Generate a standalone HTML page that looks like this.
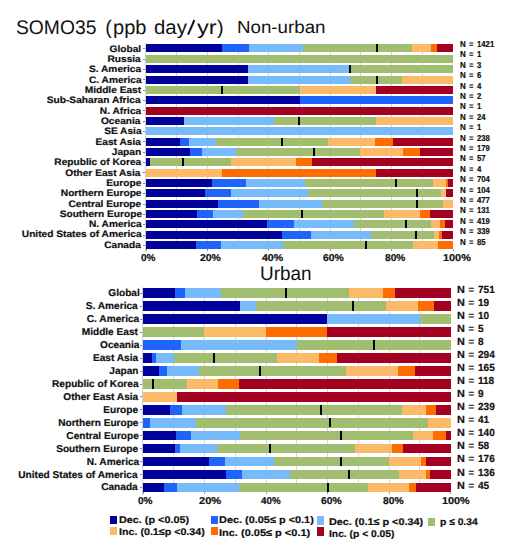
<!DOCTYPE html>
<html><head><meta charset="utf-8"><style>
html,body{margin:0;padding:0;background:#fff;}
body{width:520px;height:559px;position:relative;overflow:hidden;font-family:"Liberation Sans",sans-serif;color:#111;text-rendering:geometricPrecision;}
.x{position:absolute;white-space:nowrap;}
.x.b{font-weight:bold;-webkit-text-stroke:0.2px #111;}
.x.e{-webkit-text-stroke:0;}
.s{position:absolute;}
.m{position:absolute;width:2px;background:#000;}
.t{position:absolute;width:3px;height:1px;background:#888;}
.g{position:absolute;width:1px;background:#d6d6dc;}
.ax{position:absolute;width:1px;background:#d0d0d0;}
.sq{position:absolute;width:6.8px;height:8.3px;}
.xt{position:absolute;width:1px;height:2px;background:#999;}
</style></head><body>

<div id="title1" class="x" style="top:17px;font-size:19.8px;line-height:22px;left:16.11px;transform:scaleX(0.975);transform-origin:left center">SOMO35</div>
<div id="title2a" class="x" style="top:17px;font-size:19.8px;line-height:22px;left:105.141px">(</div>
<div id="title2b" class="x" style="top:17px;font-size:19.8px;line-height:22px;left:113.052px;transform:scaleX(1.013);transform-origin:left center">ppb</div>
<div id="title3a" class="x" style="top:17px;font-size:19.8px;line-height:22px;left:153.732px;transform:scaleX(1.031);transform-origin:left center">day</div>
<svg style="position:absolute;left:180px;top:15px" width="24" height="25" viewBox="180 15 24 25"><line x1="188.1" y1="34.6" x2="194.4" y2="20.0" stroke="#111" stroke-width="2"/></svg>
<div id="title3c" class="x" style="top:17px;font-size:19.8px;line-height:22px;left:196.5px;transform:scaleX(1.193);transform-origin:left center">yr</div>
<div id="title3d" class="x" style="top:17px;font-size:19.8px;line-height:22px;left:217.046px">)</div>
<div id="nonurban" class="x" style="top:17px;font-size:17.6px;line-height:20px;left:236.629px;transform:scaleX(1.065);transform-origin:left center">Non-urban</div>
<div id="urban" class="x" style="top:263px;font-size:19.5px;line-height:22px;left:259.703px;transform:scaleX(0.972);transform-origin:left center">Urban</div>
<div class="g" style="left:176.2px;top:44.45px;height:204.65px"></div>
<div class="g" style="left:206.9px;top:44.45px;height:204.65px"></div>
<div class="g" style="left:237.6px;top:44.45px;height:204.65px"></div>
<div class="g" style="left:268.3px;top:44.45px;height:204.65px"></div>
<div class="g" style="left:299px;top:44.45px;height:204.65px"></div>
<div class="g" style="left:329.7px;top:44.45px;height:204.65px"></div>
<div class="g" style="left:360.4px;top:44.45px;height:204.65px"></div>
<div class="g" style="left:391.1px;top:44.45px;height:204.65px"></div>
<div class="g" style="left:421.8px;top:44.45px;height:204.65px"></div>
<div class="s" style="left:146px;top:44px;width:76px;height:8px;background:#00009a"></div>
<div class="s" style="left:222px;top:44px;width:27px;height:8px;background:#1e64fa"></div>
<div class="s" style="left:249px;top:44px;width:54px;height:8px;background:#78bbfa"></div>
<div class="s" style="left:303px;top:44px;width:109px;height:8px;background:#a1bd6f"></div>
<div class="s" style="left:412px;top:44px;width:19px;height:8px;background:#fbba68"></div>
<div class="s" style="left:431px;top:44px;width:6px;height:8px;background:#ff6c00"></div>
<div class="s" style="left:437px;top:44px;width:16px;height:8px;background:#a30022"></div>
<div class="m" style="left:375.6px;top:44.45px;height:8px"></div>
<div class="t" style="left:143px;top:48.25px"></div>
<div id="t_l0" class="x b" style="top:43px;font-size:9.4px;line-height:11px;right:378.558px;transform:scaleX(1.083);transform-origin:right center">Global</div>
<div id="t_nN0" class="x b" style="top:39px;font-size:8.6px;line-height:10px;left:460.153px;transform:scaleX(0.932);transform-origin:left center">N</div>
<div id="t_nE0" class="x b e" style="top:39px;font-size:8.6px;line-height:10px;left:469.2px;transform:scaleX(0.9);transform-origin:left center">=</div>
<div id="t_nD0" class="x b" style="top:39px;font-size:8.6px;line-height:10px;left:476.5px;transform:scaleX(0.9);transform-origin:left center">1421</div>
<div class="s" style="left:146px;top:55px;width:307px;height:8px;background:#a1bd6f"></div>
<div class="t" style="left:143px;top:58.6px"></div>
<div id="t_l1" class="x b" style="top:53px;font-size:9.4px;line-height:11px;right:379.012px;transform:scaleX(1.083);transform-origin:right center">Russia</div>
<div id="t_nN1" class="x b" style="top:49px;font-size:8.6px;line-height:10px;left:460.153px;transform:scaleX(0.932);transform-origin:left center">N</div>
<div id="t_nE1" class="x b e" style="top:49px;font-size:8.6px;line-height:10px;left:469.2px;transform:scaleX(0.9);transform-origin:left center">=</div>
<div id="t_nD1" class="x b" style="top:49px;font-size:8.6px;line-height:10px;left:476.5px;transform:scaleX(0.9);transform-origin:left center">1</div>
<div class="s" style="left:146px;top:65px;width:102px;height:8px;background:#00009a"></div>
<div class="s" style="left:248px;top:65px;width:102px;height:8px;background:#78bbfa"></div>
<div class="s" style="left:350px;top:65px;width:103px;height:8px;background:#a1bd6f"></div>
<div class="m" style="left:348.8px;top:65.15px;height:8px"></div>
<div class="t" style="left:143px;top:68.95px"></div>
<div id="t_l2" class="x b" style="top:63px;font-size:9.4px;line-height:11px;right:378.537px;transform:scaleX(1.083);transform-origin:right center">S. America</div>
<div id="t_nN2" class="x b" style="top:60px;font-size:8.6px;line-height:10px;left:460.153px;transform:scaleX(0.932);transform-origin:left center">N</div>
<div id="t_nE2" class="x b e" style="top:60px;font-size:8.6px;line-height:10px;left:469.2px;transform:scaleX(0.9);transform-origin:left center">=</div>
<div id="t_nD2" class="x b" style="top:60px;font-size:8.6px;line-height:10px;left:476.5px;transform:scaleX(0.9);transform-origin:left center">3</div>
<div class="s" style="left:146px;top:76px;width:102px;height:8px;background:#00009a"></div>
<div class="s" style="left:248px;top:76px;width:102px;height:8px;background:#78bbfa"></div>
<div class="s" style="left:350px;top:76px;width:52px;height:8px;background:#a1bd6f"></div>
<div class="s" style="left:402px;top:76px;width:51px;height:8px;background:#fbba68"></div>
<div class="m" style="left:375.6px;top:75.5px;height:8px"></div>
<div class="t" style="left:143px;top:79.3px"></div>
<div id="t_l3" class="x b" style="top:74px;font-size:9.4px;line-height:11px;right:378.866px;transform:scaleX(1.083);transform-origin:right center">C. America</div>
<div id="t_nN3" class="x b" style="top:70px;font-size:8.6px;line-height:10px;left:460.153px;transform:scaleX(0.932);transform-origin:left center">N</div>
<div id="t_nE3" class="x b e" style="top:70px;font-size:8.6px;line-height:10px;left:469.2px;transform:scaleX(0.9);transform-origin:left center">=</div>
<div id="t_nD3" class="x b" style="top:70px;font-size:8.6px;line-height:10px;left:476.5px;transform:scaleX(0.9);transform-origin:left center">6</div>
<div class="s" style="left:146px;top:86px;width:154px;height:8px;background:#a1bd6f"></div>
<div class="s" style="left:300px;top:86px;width:76px;height:8px;background:#fbba68"></div>
<div class="s" style="left:376px;top:86px;width:77px;height:8px;background:#a30022"></div>
<div class="m" style="left:221px;top:85.85px;height:8px"></div>
<div class="t" style="left:143px;top:89.65px"></div>
<div id="t_l4" class="x b" style="top:84px;font-size:9.4px;line-height:11px;right:378.692px;transform:scaleX(1.083);transform-origin:right center">Middle East</div>
<div id="t_nN4" class="x b" style="top:81px;font-size:8.6px;line-height:10px;left:460.153px;transform:scaleX(0.932);transform-origin:left center">N</div>
<div id="t_nE4" class="x b e" style="top:81px;font-size:8.6px;line-height:10px;left:469.2px;transform:scaleX(0.9);transform-origin:left center">=</div>
<div id="t_nD4" class="x b" style="top:81px;font-size:8.6px;line-height:10px;left:476.5px;transform:scaleX(0.9);transform-origin:left center">4</div>
<div class="s" style="left:146px;top:96px;width:154px;height:8px;background:#00009a"></div>
<div class="s" style="left:300px;top:96px;width:153px;height:8px;background:#1e64fa"></div>
<div class="t" style="left:143px;top:100px"></div>
<div id="t_l5" class="x b" style="top:94px;font-size:9.4px;line-height:11px;right:378.866px;transform:scaleX(1.083);transform-origin:right center">Sub-Saharan Africa</div>
<div id="t_nN5" class="x b" style="top:91px;font-size:8.6px;line-height:10px;left:460.153px;transform:scaleX(0.932);transform-origin:left center">N</div>
<div id="t_nE5" class="x b e" style="top:91px;font-size:8.6px;line-height:10px;left:469.2px;transform:scaleX(0.9);transform-origin:left center">=</div>
<div id="t_nD5" class="x b" style="top:91px;font-size:8.6px;line-height:10px;left:476.5px;transform:scaleX(0.9);transform-origin:left center">2</div>
<div class="s" style="left:146px;top:107px;width:307px;height:8px;background:#a30022"></div>
<div class="t" style="left:143px;top:110.35px"></div>
<div id="t_l6" class="x b" style="top:105px;font-size:9.4px;line-height:11px;right:378.568px;transform:scaleX(1.083);transform-origin:right center">N. Africa</div>
<div id="t_nN6" class="x b" style="top:101px;font-size:8.6px;line-height:10px;left:460.153px;transform:scaleX(0.932);transform-origin:left center">N</div>
<div id="t_nE6" class="x b e" style="top:101px;font-size:8.6px;line-height:10px;left:469.2px;transform:scaleX(0.9);transform-origin:left center">=</div>
<div id="t_nD6" class="x b" style="top:101px;font-size:8.6px;line-height:10px;left:476.5px;transform:scaleX(0.9);transform-origin:left center">1</div>
<div class="s" style="left:146px;top:117px;width:38px;height:8px;background:#00009a"></div>
<div class="s" style="left:184px;top:117px;width:90px;height:8px;background:#78bbfa"></div>
<div class="s" style="left:274px;top:117px;width:102px;height:8px;background:#a1bd6f"></div>
<div class="s" style="left:376px;top:117px;width:77px;height:8px;background:#fbba68"></div>
<div class="m" style="left:298px;top:116.9px;height:8px"></div>
<div class="t" style="left:143px;top:120.7px"></div>
<div id="t_l7" class="x b" style="top:115px;font-size:9.4px;line-height:11px;right:379.162px;transform:scaleX(1.083);transform-origin:right center">Oceania</div>
<div id="t_nN7" class="x b" style="top:112px;font-size:8.6px;line-height:10px;left:460.153px;transform:scaleX(0.932);transform-origin:left center">N</div>
<div id="t_nE7" class="x b e" style="top:112px;font-size:8.6px;line-height:10px;left:469.2px;transform:scaleX(0.9);transform-origin:left center">=</div>
<div id="t_nD7" class="x b" style="top:112px;font-size:8.6px;line-height:10px;left:476.5px;transform:scaleX(0.9);transform-origin:left center">24</div>
<div class="s" style="left:146px;top:127px;width:307px;height:8px;background:#78bbfa"></div>
<div class="t" style="left:143px;top:131.05px"></div>
<div id="t_l8" class="x b" style="top:125px;font-size:9.4px;line-height:11px;right:378.866px;transform:scaleX(1.083);transform-origin:right center">SE Asia</div>
<div id="t_nN8" class="x b" style="top:122px;font-size:8.6px;line-height:10px;left:460.153px;transform:scaleX(0.932);transform-origin:left center">N</div>
<div id="t_nE8" class="x b e" style="top:122px;font-size:8.6px;line-height:10px;left:469.2px;transform:scaleX(0.9);transform-origin:left center">=</div>
<div id="t_nD8" class="x b" style="top:122px;font-size:8.6px;line-height:10px;left:476.5px;transform:scaleX(0.9);transform-origin:left center">1</div>
<div class="s" style="left:146px;top:138px;width:34px;height:8px;background:#00009a"></div>
<div class="s" style="left:180px;top:138px;width:9px;height:8px;background:#1e64fa"></div>
<div class="s" style="left:189px;top:138px;width:27px;height:8px;background:#78bbfa"></div>
<div class="s" style="left:216px;top:138px;width:112px;height:8px;background:#a1bd6f"></div>
<div class="s" style="left:328px;top:138px;width:47px;height:8px;background:#fbba68"></div>
<div class="s" style="left:375px;top:138px;width:18px;height:8px;background:#ff6c00"></div>
<div class="s" style="left:393px;top:138px;width:60px;height:8px;background:#a30022"></div>
<div class="m" style="left:281.1px;top:137.6px;height:8px"></div>
<div class="t" style="left:143px;top:141.4px"></div>
<div id="t_l9" class="x b" style="top:136px;font-size:9.4px;line-height:11px;right:378.708px;transform:scaleX(1.083);transform-origin:right center">East Asia</div>
<div id="t_nN9" class="x b" style="top:133px;font-size:8.6px;line-height:10px;left:460.153px;transform:scaleX(0.932);transform-origin:left center">N</div>
<div id="t_nE9" class="x b e" style="top:133px;font-size:8.6px;line-height:10px;left:469.2px;transform:scaleX(0.9);transform-origin:left center">=</div>
<div id="t_nD9" class="x b" style="top:133px;font-size:8.6px;line-height:10px;left:476.5px;transform:scaleX(0.9);transform-origin:left center">238</div>
<div class="s" style="left:146px;top:148px;width:44px;height:8px;background:#00009a"></div>
<div class="s" style="left:190px;top:148px;width:12px;height:8px;background:#1e64fa"></div>
<div class="s" style="left:202px;top:148px;width:34px;height:8px;background:#78bbfa"></div>
<div class="s" style="left:236px;top:148px;width:124px;height:8px;background:#a1bd6f"></div>
<div class="s" style="left:360px;top:148px;width:43px;height:8px;background:#fbba68"></div>
<div class="s" style="left:403px;top:148px;width:17px;height:8px;background:#ff6c00"></div>
<div class="s" style="left:420px;top:148px;width:33px;height:8px;background:#a30022"></div>
<div class="m" style="left:313px;top:147.95px;height:8px"></div>
<div class="t" style="left:143px;top:151.75px"></div>
<div id="t_l10" class="x b" style="top:146px;font-size:9.4px;line-height:11px;right:378.745px;transform:scaleX(1.083);transform-origin:right center">Japan</div>
<div id="t_nN10" class="x b" style="top:143px;font-size:8.6px;line-height:10px;left:460.153px;transform:scaleX(0.932);transform-origin:left center">N</div>
<div id="t_nE10" class="x b e" style="top:143px;font-size:8.6px;line-height:10px;left:469.2px;transform:scaleX(0.9);transform-origin:left center">=</div>
<div id="t_nD10" class="x b" style="top:143px;font-size:8.6px;line-height:10px;left:476.5px;transform:scaleX(0.9);transform-origin:left center">179</div>
<div class="s" style="left:146px;top:158px;width:4px;height:8px;background:#00009a"></div>
<div class="s" style="left:150px;top:158px;width:81px;height:8px;background:#a1bd6f"></div>
<div class="s" style="left:231px;top:158px;width:65px;height:8px;background:#fbba68"></div>
<div class="s" style="left:296px;top:158px;width:16px;height:8px;background:#ff6c00"></div>
<div class="s" style="left:312px;top:158px;width:141px;height:8px;background:#a30022"></div>
<div class="m" style="left:182.2px;top:158.3px;height:8px"></div>
<div class="t" style="left:143px;top:162.1px"></div>
<div id="t_l11" class="x b" style="top:156px;font-size:9.4px;line-height:11px;right:378.568px;transform:scaleX(1.083);transform-origin:right center">Republic of Korea</div>
<div id="t_nN11" class="x b" style="top:153px;font-size:8.6px;line-height:10px;left:460.153px;transform:scaleX(0.932);transform-origin:left center">N</div>
<div id="t_nE11" class="x b e" style="top:153px;font-size:8.6px;line-height:10px;left:469.2px;transform:scaleX(0.9);transform-origin:left center">=</div>
<div id="t_nD11" class="x b" style="top:153px;font-size:8.6px;line-height:10px;left:476.5px;transform:scaleX(0.9);transform-origin:left center">57</div>
<div class="s" style="left:146px;top:169px;width:76px;height:8px;background:#fbba68"></div>
<div class="s" style="left:222px;top:169px;width:154px;height:8px;background:#ff6c00"></div>
<div class="s" style="left:376px;top:169px;width:77px;height:8px;background:#a30022"></div>
<div class="t" style="left:143px;top:172.45px"></div>
<div id="t_l12" class="x b" style="top:167px;font-size:9.4px;line-height:11px;right:379.295px;transform:scaleX(1.083);transform-origin:right center">Other East Asia</div>
<div id="t_nN12" class="x b" style="top:164px;font-size:8.6px;line-height:10px;left:460.153px;transform:scaleX(0.932);transform-origin:left center">N</div>
<div id="t_nE12" class="x b e" style="top:164px;font-size:8.6px;line-height:10px;left:469.2px;transform:scaleX(0.9);transform-origin:left center">=</div>
<div id="t_nD12" class="x b" style="top:164px;font-size:8.6px;line-height:10px;left:476.5px;transform:scaleX(0.9);transform-origin:left center">4</div>
<div class="s" style="left:146px;top:179px;width:66px;height:8px;background:#00009a"></div>
<div class="s" style="left:212px;top:179px;width:34px;height:8px;background:#1e64fa"></div>
<div class="s" style="left:246px;top:179px;width:59px;height:8px;background:#78bbfa"></div>
<div class="s" style="left:305px;top:179px;width:128px;height:8px;background:#a1bd6f"></div>
<div class="s" style="left:433px;top:179px;width:13px;height:8px;background:#fbba68"></div>
<div class="s" style="left:446px;top:179px;width:2px;height:8px;background:#ff6c00"></div>
<div class="s" style="left:448px;top:179px;width:5px;height:8px;background:#a30022"></div>
<div class="m" style="left:395px;top:179px;height:8px"></div>
<div class="t" style="left:143px;top:182.8px"></div>
<div id="t_l13" class="x b" style="top:177px;font-size:9.4px;line-height:11px;right:378.493px;transform:scaleX(1.083);transform-origin:right center">Europe</div>
<div id="t_nN13" class="x b" style="top:174px;font-size:8.6px;line-height:10px;left:460.153px;transform:scaleX(0.932);transform-origin:left center">N</div>
<div id="t_nE13" class="x b e" style="top:174px;font-size:8.6px;line-height:10px;left:469.2px;transform:scaleX(0.9);transform-origin:left center">=</div>
<div id="t_nD13" class="x b" style="top:174px;font-size:8.6px;line-height:10px;left:476.5px;transform:scaleX(0.9);transform-origin:left center">704</div>
<div class="s" style="left:146px;top:189px;width:59px;height:8px;background:#00009a"></div>
<div class="s" style="left:205px;top:189px;width:26px;height:8px;background:#1e64fa"></div>
<div class="s" style="left:231px;top:189px;width:77px;height:8px;background:#78bbfa"></div>
<div class="s" style="left:308px;top:189px;width:133px;height:8px;background:#a1bd6f"></div>
<div class="s" style="left:441px;top:189px;width:5px;height:8px;background:#fbba68"></div>
<div class="s" style="left:446px;top:189px;width:7px;height:8px;background:#a30022"></div>
<div class="m" style="left:416.1px;top:189.35px;height:8px"></div>
<div class="t" style="left:143px;top:193.15px"></div>
<div id="t_l14" class="x b" style="top:187px;font-size:9.4px;line-height:11px;right:378.113px;transform:scaleX(1.083);transform-origin:right center">Northern Europe</div>
<div id="t_nN14" class="x b" style="top:185px;font-size:8.6px;line-height:10px;left:460.153px;transform:scaleX(0.932);transform-origin:left center">N</div>
<div id="t_nE14" class="x b e" style="top:185px;font-size:8.6px;line-height:10px;left:469.2px;transform:scaleX(0.9);transform-origin:left center">=</div>
<div id="t_nD14" class="x b" style="top:185px;font-size:8.6px;line-height:10px;left:476.5px;transform:scaleX(0.9);transform-origin:left center">104</div>
<div class="s" style="left:146px;top:200px;width:72px;height:8px;background:#00009a"></div>
<div class="s" style="left:218px;top:200px;width:41px;height:8px;background:#1e64fa"></div>
<div class="s" style="left:259px;top:200px;width:63px;height:8px;background:#78bbfa"></div>
<div class="s" style="left:322px;top:200px;width:121px;height:8px;background:#a1bd6f"></div>
<div class="s" style="left:443px;top:200px;width:10px;height:8px;background:#fbba68"></div>
<div class="m" style="left:416.1px;top:199.7px;height:8px"></div>
<div class="t" style="left:143px;top:203.5px"></div>
<div id="t_l15" class="x b" style="top:198px;font-size:9.4px;line-height:11px;right:378.524px;transform:scaleX(1.083);transform-origin:right center">Central Europe</div>
<div id="t_nN15" class="x b" style="top:195px;font-size:8.6px;line-height:10px;left:460.153px;transform:scaleX(0.932);transform-origin:left center">N</div>
<div id="t_nE15" class="x b e" style="top:195px;font-size:8.6px;line-height:10px;left:469.2px;transform:scaleX(0.9);transform-origin:left center">=</div>
<div id="t_nD15" class="x b" style="top:195px;font-size:8.6px;line-height:10px;left:476.5px;transform:scaleX(0.9);transform-origin:left center">477</div>
<div class="s" style="left:146px;top:210px;width:51px;height:8px;background:#00009a"></div>
<div class="s" style="left:197px;top:210px;width:16px;height:8px;background:#1e64fa"></div>
<div class="s" style="left:213px;top:210px;width:30px;height:8px;background:#78bbfa"></div>
<div class="s" style="left:243px;top:210px;width:141px;height:8px;background:#a1bd6f"></div>
<div class="s" style="left:384px;top:210px;width:36px;height:8px;background:#fbba68"></div>
<div class="s" style="left:420px;top:210px;width:10px;height:8px;background:#ff6c00"></div>
<div class="s" style="left:430px;top:210px;width:23px;height:8px;background:#a30022"></div>
<div class="m" style="left:301.4px;top:210.05px;height:8px"></div>
<div class="t" style="left:143px;top:213.85px"></div>
<div id="t_l16" class="x b" style="top:208px;font-size:9.4px;line-height:11px;right:378.343px;transform:scaleX(1.083);transform-origin:right center">Southern Europe</div>
<div id="t_nN16" class="x b" style="top:205px;font-size:8.6px;line-height:10px;left:460.153px;transform:scaleX(0.932);transform-origin:left center">N</div>
<div id="t_nE16" class="x b e" style="top:205px;font-size:8.6px;line-height:10px;left:469.2px;transform:scaleX(0.9);transform-origin:left center">=</div>
<div id="t_nD16" class="x b" style="top:205px;font-size:8.6px;line-height:10px;left:476.5px;transform:scaleX(0.9);transform-origin:left center">131</div>
<div class="s" style="left:146px;top:220px;width:121px;height:8px;background:#00009a"></div>
<div class="s" style="left:267px;top:220px;width:27px;height:8px;background:#1e64fa"></div>
<div class="s" style="left:294px;top:220px;width:60px;height:8px;background:#78bbfa"></div>
<div class="s" style="left:354px;top:220px;width:77px;height:8px;background:#a1bd6f"></div>
<div class="s" style="left:431px;top:220px;width:9px;height:8px;background:#fbba68"></div>
<div class="s" style="left:440px;top:220px;width:5px;height:8px;background:#ff6c00"></div>
<div class="s" style="left:445px;top:220px;width:8px;height:8px;background:#a30022"></div>
<div class="m" style="left:405.4px;top:220.4px;height:8px"></div>
<div class="t" style="left:143px;top:224.2px"></div>
<div id="t_l17" class="x b" style="top:218px;font-size:9.4px;line-height:11px;right:378.866px;transform:scaleX(1.083);transform-origin:right center">N. America</div>
<div id="t_nN17" class="x b" style="top:216px;font-size:8.6px;line-height:10px;left:460.153px;transform:scaleX(0.932);transform-origin:left center">N</div>
<div id="t_nE17" class="x b e" style="top:216px;font-size:8.6px;line-height:10px;left:469.2px;transform:scaleX(0.9);transform-origin:left center">=</div>
<div id="t_nD17" class="x b" style="top:216px;font-size:8.6px;line-height:10px;left:476.5px;transform:scaleX(0.9);transform-origin:left center">419</div>
<div class="s" style="left:146px;top:231px;width:136px;height:8px;background:#00009a"></div>
<div class="s" style="left:282px;top:231px;width:29px;height:8px;background:#1e64fa"></div>
<div class="s" style="left:311px;top:231px;width:60px;height:8px;background:#78bbfa"></div>
<div class="s" style="left:371px;top:231px;width:63px;height:8px;background:#a1bd6f"></div>
<div class="s" style="left:434px;top:231px;width:5px;height:8px;background:#fbba68"></div>
<div class="s" style="left:439px;top:231px;width:3px;height:8px;background:#ff6c00"></div>
<div class="s" style="left:442px;top:231px;width:11px;height:8px;background:#a30022"></div>
<div class="m" style="left:414.6px;top:230.75px;height:8px"></div>
<div class="t" style="left:143px;top:234.55px"></div>
<div id="t_l18" class="x b" style="top:228px;font-size:9.4px;line-height:11px;right:378.866px;transform:scaleX(1.083);transform-origin:right center">United States of America</div>
<div id="t_nN18" class="x b" style="top:226px;font-size:8.6px;line-height:10px;left:460.153px;transform:scaleX(0.932);transform-origin:left center">N</div>
<div id="t_nE18" class="x b e" style="top:226px;font-size:8.6px;line-height:10px;left:469.2px;transform:scaleX(0.9);transform-origin:left center">=</div>
<div id="t_nD18" class="x b" style="top:226px;font-size:8.6px;line-height:10px;left:476.5px;transform:scaleX(0.9);transform-origin:left center">339</div>
<div class="s" style="left:146px;top:241px;width:50px;height:8px;background:#00009a"></div>
<div class="s" style="left:196px;top:241px;width:25px;height:8px;background:#1e64fa"></div>
<div class="s" style="left:221px;top:241px;width:62px;height:8px;background:#78bbfa"></div>
<div class="s" style="left:283px;top:241px;width:130px;height:8px;background:#a1bd6f"></div>
<div class="s" style="left:413px;top:241px;width:25px;height:8px;background:#fbba68"></div>
<div class="s" style="left:438px;top:241px;width:15px;height:8px;background:#ff6c00"></div>
<div class="m" style="left:365.2px;top:241.1px;height:8px"></div>
<div class="t" style="left:143px;top:244.9px"></div>
<div id="t_l19" class="x b" style="top:239px;font-size:9.4px;line-height:11px;right:378.708px;transform:scaleX(1.083);transform-origin:right center">Canada</div>
<div id="t_nN19" class="x b" style="top:237px;font-size:8.6px;line-height:10px;left:460.153px;transform:scaleX(0.932);transform-origin:left center">N</div>
<div id="t_nE19" class="x b e" style="top:237px;font-size:8.6px;line-height:10px;left:469.2px;transform:scaleX(0.9);transform-origin:left center">=</div>
<div id="t_nD19" class="x b" style="top:237px;font-size:8.6px;line-height:10px;left:476.5px;transform:scaleX(0.9);transform-origin:left center">85</div>
<div class="xt" style="left:145.5px;top:249.1px"></div>
<div class="xt" style="left:206.9px;top:249.1px"></div>
<div class="xt" style="left:268.3px;top:249.1px"></div>
<div class="xt" style="left:329.7px;top:249.1px"></div>
<div class="xt" style="left:391.1px;top:249.1px"></div>
<div class="xt" style="left:452.5px;top:249.1px"></div>
<div class="ax" style="left:145px;top:43.45px;height:208.15px"></div>
<div class="g" style="left:173.26px;top:288px;height:204.4px"></div>
<div class="g" style="left:204.02px;top:288px;height:204.4px"></div>
<div class="g" style="left:234.78px;top:288px;height:204.4px"></div>
<div class="g" style="left:265.54px;top:288px;height:204.4px"></div>
<div class="g" style="left:296.3px;top:288px;height:204.4px"></div>
<div class="g" style="left:327.06px;top:288px;height:204.4px"></div>
<div class="g" style="left:357.82px;top:288px;height:204.4px"></div>
<div class="g" style="left:388.58px;top:288px;height:204.4px"></div>
<div class="g" style="left:419.34px;top:288px;height:204.4px"></div>
<div class="s" style="left:143px;top:288px;width:32px;height:10px;background:#00009a"></div>
<div class="s" style="left:175px;top:288px;width:10px;height:10px;background:#1e64fa"></div>
<div class="s" style="left:185px;top:288px;width:36px;height:10px;background:#78bbfa"></div>
<div class="s" style="left:221px;top:288px;width:128px;height:10px;background:#a1bd6f"></div>
<div class="s" style="left:349px;top:288px;width:34px;height:10px;background:#fbba68"></div>
<div class="s" style="left:383px;top:288px;width:12px;height:10px;background:#ff6c00"></div>
<div class="s" style="left:395px;top:288px;width:56px;height:10px;background:#a30022"></div>
<div class="m" style="left:285px;top:288px;height:9.7px"></div>
<div class="t" style="left:140px;top:292.65px"></div>
<div id="b_l0" class="x b" style="top:288px;font-size:9.9px;line-height:11px;right:380.691px;transform:scaleX(1.023);transform-origin:right center">Global</div>
<div id="b_nN0" class="x b" style="top:285px;font-size:10.3px;line-height:11px;left:457.229px;transform:scaleX(1.054);transform-origin:left center">N</div>
<div id="b_nE0" class="x b e" style="top:285px;font-size:10.3px;line-height:11px;left:468.3px">=</div>
<div id="b_nD0" class="x b" style="top:285px;font-size:10.3px;line-height:11px;left:477.9px;transform:scaleX(0.975);transform-origin:left center">751</div>
<div class="s" style="left:143px;top:301px;width:97px;height:10px;background:#00009a"></div>
<div class="s" style="left:240px;top:301px;width:16px;height:10px;background:#78bbfa"></div>
<div class="s" style="left:256px;top:301px;width:130px;height:10px;background:#a1bd6f"></div>
<div class="s" style="left:386px;top:301px;width:32px;height:10px;background:#fbba68"></div>
<div class="s" style="left:418px;top:301px;width:16px;height:10px;background:#ff6c00"></div>
<div class="s" style="left:434px;top:301px;width:17px;height:10px;background:#a30022"></div>
<div class="m" style="left:352px;top:300.98px;height:9.7px"></div>
<div class="t" style="left:140px;top:305.63px"></div>
<div id="b_l1" class="x b" style="top:301px;font-size:9.9px;line-height:11px;right:382.011px;transform:scaleX(1.023);transform-origin:right center">S. America</div>
<div id="b_nN1" class="x b" style="top:298px;font-size:10.3px;line-height:11px;left:457.229px;transform:scaleX(1.054);transform-origin:left center">N</div>
<div id="b_nE1" class="x b e" style="top:298px;font-size:10.3px;line-height:11px;left:468.3px">=</div>
<div id="b_nD1" class="x b" style="top:298px;font-size:10.3px;line-height:11px;left:477.9px;transform:scaleX(0.975);transform-origin:left center">19</div>
<div class="s" style="left:143px;top:314px;width:184px;height:10px;background:#00009a"></div>
<div class="s" style="left:327px;top:314px;width:93px;height:10px;background:#78bbfa"></div>
<div class="s" style="left:420px;top:314px;width:31px;height:10px;background:#a1bd6f"></div>
<div class="t" style="left:140px;top:318.61px"></div>
<div id="b_l2" class="x b" style="top:314px;font-size:9.9px;line-height:11px;right:381.164px;transform:scaleX(1.023);transform-origin:right center">C. America</div>
<div id="b_nN2" class="x b" style="top:311px;font-size:10.3px;line-height:11px;left:457.229px;transform:scaleX(1.054);transform-origin:left center">N</div>
<div id="b_nE2" class="x b e" style="top:311px;font-size:10.3px;line-height:11px;left:468.3px">=</div>
<div id="b_nD2" class="x b" style="top:311px;font-size:10.3px;line-height:11px;left:477.9px;transform:scaleX(0.975);transform-origin:left center">10</div>
<div class="s" style="left:143px;top:327px;width:61px;height:10px;background:#a1bd6f"></div>
<div class="s" style="left:204px;top:327px;width:62px;height:10px;background:#fbba68"></div>
<div class="s" style="left:266px;top:327px;width:61px;height:10px;background:#ff6c00"></div>
<div class="s" style="left:327px;top:327px;width:124px;height:10px;background:#a30022"></div>
<div class="t" style="left:140px;top:331.59px"></div>
<div id="b_l3" class="x b" style="top:327px;font-size:9.9px;line-height:11px;right:381.742px;transform:scaleX(1.023);transform-origin:right center">Middle East</div>
<div id="b_nN3" class="x b" style="top:324px;font-size:10.3px;line-height:11px;left:457.229px;transform:scaleX(1.054);transform-origin:left center">N</div>
<div id="b_nE3" class="x b e" style="top:324px;font-size:10.3px;line-height:11px;left:468.3px">=</div>
<div id="b_nD3" class="x b" style="top:324px;font-size:10.3px;line-height:11px;left:477.9px;transform:scaleX(0.975);transform-origin:left center">5</div>
<div class="s" style="left:143px;top:340px;width:38px;height:10px;background:#1e64fa"></div>
<div class="s" style="left:181px;top:340px;width:116px;height:10px;background:#78bbfa"></div>
<div class="s" style="left:297px;top:340px;width:154px;height:10px;background:#a1bd6f"></div>
<div class="m" style="left:372.9px;top:339.92px;height:9.7px"></div>
<div class="t" style="left:140px;top:344.57px"></div>
<div id="b_l4" class="x b" style="top:340px;font-size:9.9px;line-height:11px;right:381.064px;transform:scaleX(1.023);transform-origin:right center">Oceania</div>
<div id="b_nN4" class="x b" style="top:337px;font-size:10.3px;line-height:11px;left:457.229px;transform:scaleX(1.054);transform-origin:left center">N</div>
<div id="b_nE4" class="x b e" style="top:337px;font-size:10.3px;line-height:11px;left:468.3px">=</div>
<div id="b_nD4" class="x b" style="top:337px;font-size:10.3px;line-height:11px;left:477.9px;transform:scaleX(0.975);transform-origin:left center">8</div>
<div class="s" style="left:143px;top:353px;width:9px;height:10px;background:#00009a"></div>
<div class="s" style="left:152px;top:353px;width:4px;height:10px;background:#1e64fa"></div>
<div class="s" style="left:156px;top:353px;width:18px;height:10px;background:#78bbfa"></div>
<div class="s" style="left:174px;top:353px;width:103px;height:10px;background:#a1bd6f"></div>
<div class="s" style="left:277px;top:353px;width:42px;height:10px;background:#fbba68"></div>
<div class="s" style="left:319px;top:353px;width:18px;height:10px;background:#ff6c00"></div>
<div class="s" style="left:337px;top:353px;width:114px;height:10px;background:#a30022"></div>
<div class="m" style="left:213.1px;top:352.9px;height:9.7px"></div>
<div class="t" style="left:140px;top:357.55px"></div>
<div id="b_l5" class="x b" style="top:353px;font-size:9.9px;line-height:11px;right:381.619px;transform:scaleX(1.023);transform-origin:right center">East Asia</div>
<div id="b_nN5" class="x b" style="top:350px;font-size:10.3px;line-height:11px;left:457.229px;transform:scaleX(1.054);transform-origin:left center">N</div>
<div id="b_nE5" class="x b e" style="top:350px;font-size:10.3px;line-height:11px;left:468.3px">=</div>
<div id="b_nD5" class="x b" style="top:350px;font-size:10.3px;line-height:11px;left:477.9px;transform:scaleX(0.975);transform-origin:left center">294</div>
<div class="s" style="left:143px;top:366px;width:16px;height:10px;background:#00009a"></div>
<div class="s" style="left:159px;top:366px;width:8px;height:10px;background:#1e64fa"></div>
<div class="s" style="left:167px;top:366px;width:32px;height:10px;background:#78bbfa"></div>
<div class="s" style="left:199px;top:366px;width:147px;height:10px;background:#a1bd6f"></div>
<div class="s" style="left:346px;top:366px;width:52px;height:10px;background:#fbba68"></div>
<div class="s" style="left:398px;top:366px;width:17px;height:10px;background:#ff6c00"></div>
<div class="s" style="left:415px;top:366px;width:36px;height:10px;background:#a30022"></div>
<div class="m" style="left:259.3px;top:365.88px;height:9.7px"></div>
<div class="t" style="left:140px;top:370.53px"></div>
<div id="b_l6" class="x b" style="top:366px;font-size:9.9px;line-height:11px;right:381.291px;transform:scaleX(1.023);transform-origin:right center">Japan</div>
<div id="b_nN6" class="x b" style="top:363px;font-size:10.3px;line-height:11px;left:457.229px;transform:scaleX(1.054);transform-origin:left center">N</div>
<div id="b_nE6" class="x b e" style="top:363px;font-size:10.3px;line-height:11px;left:468.3px">=</div>
<div id="b_nD6" class="x b" style="top:363px;font-size:10.3px;line-height:11px;left:477.9px;transform:scaleX(0.975);transform-origin:left center">165</div>
<div class="s" style="left:143px;top:379px;width:44px;height:10px;background:#a1bd6f"></div>
<div class="s" style="left:187px;top:379px;width:31px;height:10px;background:#fbba68"></div>
<div class="s" style="left:218px;top:379px;width:21px;height:10px;background:#ff6c00"></div>
<div class="s" style="left:239px;top:379px;width:212px;height:10px;background:#a30022"></div>
<div class="m" style="left:152px;top:378.86px;height:9.7px"></div>
<div class="t" style="left:140px;top:383.51px"></div>
<div id="b_l7" class="x b" style="top:379px;font-size:9.9px;line-height:11px;right:381.797px;transform:scaleX(1.023);transform-origin:right center">Republic of Korea</div>
<div id="b_nN7" class="x b" style="top:376px;font-size:10.3px;line-height:11px;left:457.229px;transform:scaleX(1.054);transform-origin:left center">N</div>
<div id="b_nE7" class="x b e" style="top:376px;font-size:10.3px;line-height:11px;left:468.3px">=</div>
<div id="b_nD7" class="x b" style="top:376px;font-size:10.3px;line-height:11px;left:477.9px;transform:scaleX(0.975);transform-origin:left center">118</div>
<div class="s" style="left:143px;top:392px;width:34px;height:10px;background:#fbba68"></div>
<div class="s" style="left:177px;top:392px;width:274px;height:10px;background:#a30022"></div>
<div class="t" style="left:140px;top:396.49px"></div>
<div id="b_l8" class="x b" style="top:392px;font-size:9.9px;line-height:11px;right:381.619px;transform:scaleX(1.023);transform-origin:right center">Other East Asia</div>
<div id="b_nN8" class="x b" style="top:389px;font-size:10.3px;line-height:11px;left:457.229px;transform:scaleX(1.054);transform-origin:left center">N</div>
<div id="b_nE8" class="x b e" style="top:389px;font-size:10.3px;line-height:11px;left:468.3px">=</div>
<div id="b_nD8" class="x b" style="top:389px;font-size:10.3px;line-height:11px;left:477.9px;transform:scaleX(0.975);transform-origin:left center">9</div>
<div class="s" style="left:143px;top:405px;width:27px;height:10px;background:#00009a"></div>
<div class="s" style="left:170px;top:405px;width:12px;height:10px;background:#1e64fa"></div>
<div class="s" style="left:182px;top:405px;width:44px;height:10px;background:#78bbfa"></div>
<div class="s" style="left:226px;top:405px;width:176px;height:10px;background:#a1bd6f"></div>
<div class="s" style="left:402px;top:405px;width:24px;height:10px;background:#fbba68"></div>
<div class="s" style="left:426px;top:405px;width:10px;height:10px;background:#ff6c00"></div>
<div class="s" style="left:436px;top:405px;width:15px;height:10px;background:#a30022"></div>
<div class="m" style="left:320.4px;top:404.82px;height:9.7px"></div>
<div class="t" style="left:140px;top:409.47px"></div>
<div id="b_l9" class="x b" style="top:405px;font-size:9.9px;line-height:11px;right:381.559px;transform:scaleX(1.023);transform-origin:right center">Europe</div>
<div id="b_nN9" class="x b" style="top:402px;font-size:10.3px;line-height:11px;left:457.229px;transform:scaleX(1.054);transform-origin:left center">N</div>
<div id="b_nE9" class="x b e" style="top:402px;font-size:10.3px;line-height:11px;left:468.3px">=</div>
<div id="b_nD9" class="x b" style="top:402px;font-size:10.3px;line-height:11px;left:477.9px;transform:scaleX(0.975);transform-origin:left center">239</div>
<div class="s" style="left:143px;top:418px;width:7px;height:10px;background:#1e64fa"></div>
<div class="s" style="left:150px;top:418px;width:46px;height:10px;background:#78bbfa"></div>
<div class="s" style="left:196px;top:418px;width:232px;height:10px;background:#a1bd6f"></div>
<div class="s" style="left:428px;top:418px;width:23px;height:10px;background:#fbba68"></div>
<div class="m" style="left:329.4px;top:417.8px;height:9.7px"></div>
<div class="t" style="left:140px;top:422.45px"></div>
<div id="b_l10" class="x b" style="top:418px;font-size:9.9px;line-height:11px;right:381.336px;transform:scaleX(1.023);transform-origin:right center">Northern Europe</div>
<div id="b_nN10" class="x b" style="top:415px;font-size:10.3px;line-height:11px;left:457.229px;transform:scaleX(1.054);transform-origin:left center">N</div>
<div id="b_nE10" class="x b e" style="top:415px;font-size:10.3px;line-height:11px;left:468.3px">=</div>
<div id="b_nD10" class="x b" style="top:415px;font-size:10.3px;line-height:11px;left:477.9px;transform:scaleX(0.975);transform-origin:left center">41</div>
<div class="s" style="left:143px;top:431px;width:33px;height:9px;background:#00009a"></div>
<div class="s" style="left:176px;top:431px;width:15px;height:9px;background:#1e64fa"></div>
<div class="s" style="left:191px;top:431px;width:49px;height:9px;background:#78bbfa"></div>
<div class="s" style="left:240px;top:431px;width:173px;height:9px;background:#a1bd6f"></div>
<div class="s" style="left:413px;top:431px;width:20px;height:9px;background:#fbba68"></div>
<div class="s" style="left:433px;top:431px;width:13px;height:9px;background:#ff6c00"></div>
<div class="s" style="left:446px;top:431px;width:5px;height:9px;background:#a30022"></div>
<div class="m" style="left:339.8px;top:430.78px;height:9.7px"></div>
<div class="t" style="left:140px;top:435.43px"></div>
<div id="b_l11" class="x b" style="top:431px;font-size:9.9px;line-height:11px;right:381.437px;transform:scaleX(1.023);transform-origin:right center">Central Europe</div>
<div id="b_nN11" class="x b" style="top:428px;font-size:10.3px;line-height:11px;left:457.229px;transform:scaleX(1.054);transform-origin:left center">N</div>
<div id="b_nE11" class="x b e" style="top:428px;font-size:10.3px;line-height:11px;left:468.3px">=</div>
<div id="b_nD11" class="x b" style="top:428px;font-size:10.3px;line-height:11px;left:477.9px;transform:scaleX(0.975);transform-origin:left center">140</div>
<div class="s" style="left:143px;top:444px;width:32px;height:9px;background:#00009a"></div>
<div class="s" style="left:175px;top:444px;width:5px;height:9px;background:#1e64fa"></div>
<div class="s" style="left:180px;top:444px;width:37px;height:9px;background:#78bbfa"></div>
<div class="s" style="left:217px;top:444px;width:138px;height:9px;background:#a1bd6f"></div>
<div class="s" style="left:355px;top:444px;width:37px;height:9px;background:#fbba68"></div>
<div class="s" style="left:392px;top:444px;width:11px;height:9px;background:#ff6c00"></div>
<div class="s" style="left:403px;top:444px;width:48px;height:9px;background:#a30022"></div>
<div class="m" style="left:269.2px;top:443.76px;height:9.7px"></div>
<div class="t" style="left:140px;top:448.41px"></div>
<div id="b_l12" class="x b" style="top:444px;font-size:9.9px;line-height:11px;right:381.559px;transform:scaleX(1.023);transform-origin:right center">Southern Europe</div>
<div id="b_nN12" class="x b" style="top:441px;font-size:10.3px;line-height:11px;left:457.229px;transform:scaleX(1.054);transform-origin:left center">N</div>
<div id="b_nE12" class="x b e" style="top:441px;font-size:10.3px;line-height:11px;left:468.3px">=</div>
<div id="b_nD12" class="x b" style="top:441px;font-size:10.3px;line-height:11px;left:477.9px;transform:scaleX(0.975);transform-origin:left center">58</div>
<div class="s" style="left:143px;top:457px;width:66px;height:9px;background:#00009a"></div>
<div class="s" style="left:209px;top:457px;width:16px;height:9px;background:#1e64fa"></div>
<div class="s" style="left:225px;top:457px;width:49px;height:9px;background:#78bbfa"></div>
<div class="s" style="left:274px;top:457px;width:115px;height:9px;background:#a1bd6f"></div>
<div class="s" style="left:389px;top:457px;width:32px;height:9px;background:#fbba68"></div>
<div class="s" style="left:421px;top:457px;width:5px;height:9px;background:#ff6c00"></div>
<div class="s" style="left:426px;top:457px;width:25px;height:9px;background:#a30022"></div>
<div class="m" style="left:339.8px;top:456.74px;height:9.7px"></div>
<div class="t" style="left:140px;top:461.39px"></div>
<div id="b_l13" class="x b" style="top:457px;font-size:9.9px;line-height:11px;right:381.164px;transform:scaleX(1.023);transform-origin:right center">N. America</div>
<div id="b_nN13" class="x b" style="top:454px;font-size:10.3px;line-height:11px;left:457.229px;transform:scaleX(1.054);transform-origin:left center">N</div>
<div id="b_nE13" class="x b e" style="top:454px;font-size:10.3px;line-height:11px;left:468.3px">=</div>
<div id="b_nD13" class="x b" style="top:454px;font-size:10.3px;line-height:11px;left:477.9px;transform:scaleX(0.975);transform-origin:left center">176</div>
<div class="s" style="left:143px;top:470px;width:83px;height:9px;background:#00009a"></div>
<div class="s" style="left:226px;top:470px;width:16px;height:9px;background:#1e64fa"></div>
<div class="s" style="left:242px;top:470px;width:48px;height:9px;background:#78bbfa"></div>
<div class="s" style="left:290px;top:470px;width:109px;height:9px;background:#a1bd6f"></div>
<div class="s" style="left:399px;top:470px;width:27px;height:9px;background:#fbba68"></div>
<div class="s" style="left:426px;top:470px;width:4px;height:9px;background:#ff6c00"></div>
<div class="s" style="left:430px;top:470px;width:21px;height:9px;background:#a30022"></div>
<div class="m" style="left:348.2px;top:469.72px;height:9.7px"></div>
<div class="t" style="left:140px;top:474.37px"></div>
<div id="b_l14" class="x b" style="top:470px;font-size:9.9px;line-height:11px;right:382.011px;transform:scaleX(1.023);transform-origin:right center">United States of America</div>
<div id="b_nN14" class="x b" style="top:468px;font-size:10.3px;line-height:11px;left:457.229px;transform:scaleX(1.054);transform-origin:left center">N</div>
<div id="b_nE14" class="x b e" style="top:468px;font-size:10.3px;line-height:11px;left:468.3px">=</div>
<div id="b_nD14" class="x b" style="top:468px;font-size:10.3px;line-height:11px;left:477.9px;transform:scaleX(0.975);transform-origin:left center">136</div>
<div class="s" style="left:143px;top:483px;width:21px;height:9px;background:#00009a"></div>
<div class="s" style="left:164px;top:483px;width:13px;height:9px;background:#1e64fa"></div>
<div class="s" style="left:177px;top:483px;width:62px;height:9px;background:#78bbfa"></div>
<div class="s" style="left:239px;top:483px;width:129px;height:9px;background:#a1bd6f"></div>
<div class="s" style="left:368px;top:483px;width:41px;height:9px;background:#fbba68"></div>
<div class="s" style="left:409px;top:483px;width:7px;height:9px;background:#ff6c00"></div>
<div class="s" style="left:416px;top:483px;width:35px;height:9px;background:#a30022"></div>
<div class="m" style="left:326.6px;top:482.7px;height:9.7px"></div>
<div class="t" style="left:140px;top:487.35px"></div>
<div id="b_l15" class="x b" style="top:482px;font-size:9.9px;line-height:11px;right:382.011px;transform:scaleX(1.023);transform-origin:right center">Canada</div>
<div id="b_nN15" class="x b" style="top:481px;font-size:10.3px;line-height:11px;left:457.229px;transform:scaleX(1.054);transform-origin:left center">N</div>
<div id="b_nE15" class="x b e" style="top:481px;font-size:10.3px;line-height:11px;left:468.3px">=</div>
<div id="b_nD15" class="x b" style="top:481px;font-size:10.3px;line-height:11px;left:477.9px;transform:scaleX(0.975);transform-origin:left center">45</div>
<div class="xt" style="left:142.5px;top:492.4px"></div>
<div class="xt" style="left:204.02px;top:492.4px"></div>
<div class="xt" style="left:265.54px;top:492.4px"></div>
<div class="xt" style="left:327.06px;top:492.4px"></div>
<div class="xt" style="left:388.58px;top:492.4px"></div>
<div class="xt" style="left:450.1px;top:492.4px"></div>
<div class="ax" style="left:142px;top:287px;height:207.9px"></div>
<div id="ta0" class="x b" style="top:253px;font-size:10px;line-height:11px;left:140.719px;transform:scaleX(1.004);transform-origin:left center">0%</div>
<div id="ta1" class="x b" style="top:253px;font-size:10px;line-height:11px;left:200.271px;transform:scaleX(1.041);transform-origin:left center">20%</div>
<div id="ta2" class="x b" style="top:253px;font-size:10px;line-height:11px;left:262.247px;transform:scaleX(1.056);transform-origin:left center">40%</div>
<div id="ta3" class="x b" style="top:253px;font-size:10px;line-height:11px;left:323.191px;transform:scaleX(1.043);transform-origin:left center">60%</div>
<div id="ta4" class="x b" style="top:253px;font-size:10px;line-height:11px;left:385.249px;transform:scaleX(1.019);transform-origin:left center">80%</div>
<div id="ta5" class="x b" style="top:253px;font-size:10px;line-height:11px;left:442.842px;transform:scaleX(1.088);transform-origin:left center">100%</div>
<div id="ba0" class="x b" style="top:496px;font-size:10px;line-height:11px;left:138.282px;transform:scaleX(1.01);transform-origin:left center">0%</div>
<div id="ba1" class="x b" style="top:496px;font-size:10px;line-height:11px;left:198.51px;transform:scaleX(1.107);transform-origin:left center">20%</div>
<div id="ba2" class="x b" style="top:496px;font-size:10px;line-height:11px;left:260.927px;transform:scaleX(0.979);transform-origin:left center">40%</div>
<div id="ba3" class="x b" style="top:496px;font-size:10px;line-height:11px;left:320.789px;transform:scaleX(1.033);transform-origin:left center">60%</div>
<div id="ba4" class="x b" style="top:496px;font-size:10px;line-height:11px;left:382.664px;transform:scaleX(1.031);transform-origin:left center">80%</div>
<div id="ba5" class="x b" style="top:496px;font-size:10px;line-height:11px;left:442.423px;transform:scaleX(1.086);transform-origin:left center">100%</div>
<div class="sq" style="left:109.8px;top:515.5px;background:#00009a"></div>
<div id="lg0" class="x b" style="top:515px;font-size:9.7px;line-height:11px;left:119.423px;transform:scaleX(1.117);transform-origin:left center">Dec. (p &lt;0.05)</div>
<div class="sq" style="left:211.1px;top:515.5px;background:#1e64fa"></div>
<div id="lg1" class="x b" style="top:515px;font-size:9.7px;line-height:11px;left:219.423px;transform:scaleX(1.126);transform-origin:left center">Dec. (0.05&le; p &lt;0.1)</div>
<div class="sq" style="left:317.1px;top:516.3px;background:#78bbfa"></div>
<div id="lg2" class="x b" style="top:517px;font-size:9.7px;line-height:11px;left:329.234px;transform:scaleX(1.117);transform-origin:left center">Dec. (0.1&le; p &lt;0.34)</div>
<div class="sq" style="left:428.3px;top:518.1px;background:#a1bd6f"></div>
<div id="lg3" class="x b" style="top:517px;font-size:9.7px;line-height:11px;left:439.656px;transform:scaleX(1.061);transform-origin:left center">p &le; 0.34</div>
<div class="sq" style="left:109.8px;top:527px;background:#fbba68"></div>
<div id="lg4" class="x b" style="top:527px;font-size:9.7px;line-height:11px;left:119.368px;transform:scaleX(1.103);transform-origin:left center">Inc. (0.1&le;p &lt;0.34)</div>
<div class="sq" style="left:211.1px;top:527px;background:#ff6c00"></div>
<div id="lg5" class="x b" style="top:528px;font-size:9.7px;line-height:11px;left:219.403px;transform:scaleX(1.134);transform-origin:left center">Inc. (0.05&le; p &lt;0.1)</div>
<div class="sq" style="left:317.1px;top:527.3px;background:#a30022"></div>
<div id="lg6" class="x b" style="top:529px;font-size:9.7px;line-height:11px;left:329.385px;transform:scaleX(1.062);transform-origin:left center">Inc. (p &lt; 0.05)</div>
</body></html>
